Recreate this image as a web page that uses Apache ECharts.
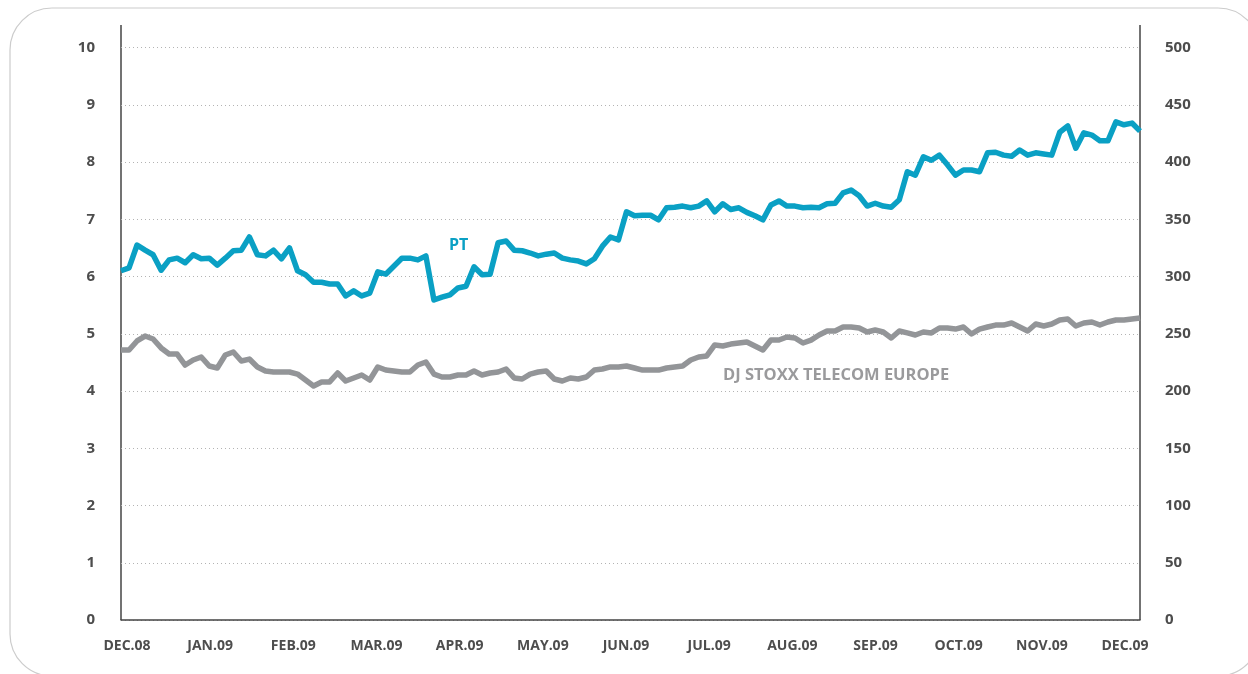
<!DOCTYPE html>
<html>
<head>
<meta charset="utf-8">
<script src="https://cdn.jsdelivr.net/npm/echarts@6/dist/echarts.min.js"></script>
<style>
  html, body { margin: 0; padding: 0; background: #ffffff; }
  #chart { width: 1248px; height: 674px; }
</style>
</head>
<body>
<div id="chart"></div>
<script>
// month labels under the x axis
var months = ['DEC.08', 'JAN.09', 'FEB.09', 'MAR.09', 'APR.09', 'MAY.09', 'JUN.09',
  'JUL.09', 'AUG.09', 'SEP.09', 'OCT.09', 'NOV.09', 'DEC.09'];

// PT share price (left axis, EUR)
var ptValues = [
  6.10, 6.15, 6.55, 6.46, 6.38, 6.11, 6.29, 6.32, 6.24, 6.38,
  6.31, 6.32, 6.20, 6.32, 6.45, 6.46, 6.69, 6.38, 6.36, 6.46,
  6.31, 6.50, 6.10, 6.03, 5.90, 5.90, 5.87, 5.87, 5.66, 5.75,
  5.66, 5.71, 6.08, 6.04, 6.18, 6.32, 6.32, 6.29, 6.36, 5.59,
  5.64, 5.68, 5.80, 5.83, 6.17, 6.03, 6.04, 6.59, 6.62, 6.46,
  6.45, 6.41, 6.36, 6.39, 6.41, 6.32, 6.29, 6.27, 6.22, 6.31,
  6.53, 6.69, 6.64, 7.13, 7.06, 7.07, 7.07, 6.99, 7.20, 7.21,
  7.23, 7.20, 7.23, 7.32, 7.13, 7.27, 7.17, 7.20, 7.12, 7.06,
  6.99, 7.25, 7.32, 7.23, 7.23, 7.20, 7.21, 7.20, 7.27, 7.28,
  7.46, 7.51, 7.41, 7.23, 7.28, 7.23, 7.21, 7.34, 7.83, 7.77,
  8.09, 8.03, 8.12, 7.95, 7.77, 7.86, 7.86, 7.83, 8.16, 8.17,
  8.12, 8.10, 8.21, 8.12, 8.16, 8.14, 8.12, 8.52, 8.63, 8.24,
  8.51, 8.47, 8.37, 8.37, 8.70, 8.65, 8.68, 8.54
];

// DJ Stoxx Telecom Europe index (right axis)
var stoxxValues = [
  235.8, 235.8, 243.7, 248.0, 245.4, 237.6, 232.3, 232.3, 222.7, 227.1,
  229.7, 221.8, 220.1, 231.4, 234.1, 226.2, 227.9, 221.0, 217.5, 216.6,
  216.6, 216.6, 214.8, 209.6, 204.4, 207.9, 207.9, 215.7, 208.7, 211.4,
  214.0, 209.6, 221.0, 218.3, 217.5, 216.6, 216.6, 222.7, 225.3, 214.8,
  212.2, 212.2, 214.0, 214.0, 217.5, 214.0, 215.7, 216.6, 219.2, 211.4,
  210.5, 214.8, 216.6, 217.5, 210.5, 208.7, 211.4, 210.5, 212.2, 218.3,
  219.2, 221.0, 221.0, 221.8, 220.1, 218.3, 218.3, 218.3, 220.1, 221.0,
  221.8, 227.1, 229.7, 230.6, 240.2, 239.3, 241.0, 241.9, 242.8, 239.3,
  235.8, 244.5, 244.5, 247.2, 246.3, 241.9, 244.5, 248.9, 252.4, 252.4,
  255.9, 255.9, 255.0, 251.5, 253.3, 251.5, 246.3, 252.4, 250.7, 248.9,
  251.5, 250.7, 255.0, 255.0, 254.1, 255.9, 249.8, 254.1, 255.9, 257.6,
  257.6, 259.4, 255.9, 252.4, 258.5, 256.8, 258.5, 262.0, 262.9, 256.8,
  259.4, 260.3, 257.6, 260.3, 262.0, 262.0, 262.9, 263.8
];

var days = ptValues.map(function (v, i) { return i; });

var fontName = "'Open Sans', sans-serif";

var chart = echarts.init(document.getElementById('chart'), null, { renderer: 'canvas' });

var option = {
  backgroundColor: '#ffffff',
  animation: false,
  grid: [
    { left: 121, right: 108, top: 47.5, bottom: 54 },
    // second grid only carries the month labels
    { left: 127, right: 123, top: 47.5, bottom: 54 }
  ],
  xAxis: [{
    type: 'category',
    gridIndex: 0,
    data: days,
    boundaryGap: false,
    axisLine: { show: true, lineStyle: { color: '#444', width: 1.5 } },
    axisTick: { show: false },
    axisLabel: { show: false },
    splitLine: { show: false }
  }, {
    type: 'category',
    gridIndex: 1,
    data: months,
    boundaryGap: false,
    axisLine: { show: false },
    axisTick: { show: false },
    axisLabel: {
      margin: 19,
      interval: 0,
      color: '#4d4d4d',
      fontFamily: fontName,
      fontWeight: 'bold',
      fontSize: 14
    },
    splitLine: { show: false }
  }],
  yAxis: [{
    type: 'value',
    gridIndex: 0,
    min: 0,
    max: 10,
    interval: 1,
    axisLine: { show: false },
    axisTick: { show: false },
    axisLabel: { margin: 26, color: '#4d4d4d', fontFamily: fontName, fontWeight: 'bold', fontSize: 15 },
    splitLine: { show: true, lineStyle: { color: '#b3b3b3', type: [1, 3], width: 1 } }
  }, {
    type: 'value',
    gridIndex: 0,
    position: 'right',
    min: 0,
    max: 500,
    interval: 50,
    axisLine: { show: false },
    axisTick: { show: false },
    axisLabel: { margin: 25, color: '#4d4d4d', fontFamily: fontName, fontWeight: 'bold', fontSize: 15 },
    splitLine: { show: false }
  }, {
    type: 'value',
    gridIndex: 1,
    show: false
  }],
  graphic: [
    // rounded frame
    {
      type: 'rect',
      shape: { x: 10, y: 8, width: 1250, height: 668, r: 42 },
      style: { fill: 'none', stroke: '#cccccc', lineWidth: 1.2 },
      z: -1
    },
    // vertical axis lines, extended above the top gridline
    {
      type: 'line',
      shape: { x1: 121, y1: 25, x2: 121, y2: 620 },
      style: { stroke: '#444', lineWidth: 1.5 }
    },
    {
      type: 'line',
      shape: { x1: 1140, y1: 25, x2: 1140, y2: 620 },
      style: { stroke: '#444', lineWidth: 1.5 }
    },
    {
      type: 'text',
      left: 449,
      top: 237,
      style: {
        text: 'PT',
        fill: '#0aa0c4',
        font: "bold 16px 'Open Sans', sans-serif"
      }
    },
    {
      type: 'text',
      left: 723,
      top: 367,
      style: {
        text: 'DJ STOXX TELECOM EUROPE',
        fill: '#9a9a9c',
        font: "bold 16.5px 'Open Sans', sans-serif"
      }
    }
  ],
  series: [{
    name: 'PT',
    type: 'line',
    xAxisIndex: 0,
    yAxisIndex: 0,
    data: ptValues,
    showSymbol: false,
    lineStyle: { color: '#0aa0c4', width: 5.5, join: 'round' },
    z: 3
  }, {
    name: 'DJ STOXX TELECOM EUROPE',
    type: 'line',
    xAxisIndex: 0,
    yAxisIndex: 1,
    data: stoxxValues,
    showSymbol: false,
    lineStyle: { color: '#939598', width: 5.5, join: 'round' },
    z: 2
  }]
};

chart.setOption(option);
</script>
</body>
</html>
